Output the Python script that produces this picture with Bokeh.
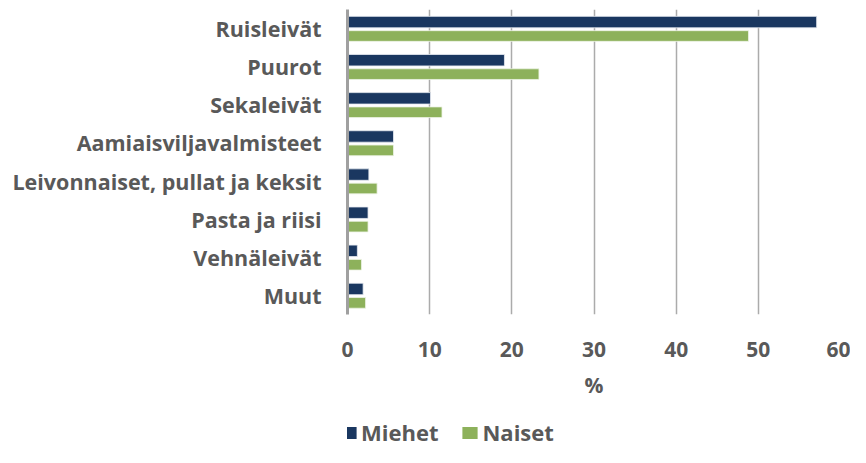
from bokeh.plotting import figure
from bokeh.layouts import column
from bokeh.models import FactorRange, Range1d, FixedTicker, Legend, LegendItem
from bokeh.transform import dodge
from bokeh.models import ColumnDataSource
from bokeh.embed import file_html
from bokeh.resources import INLINE

categories = ["Ruisleivät", "Puurot", "Sekaleivät", "Aamiaisviljavalmisteet",
              "Leivonnaiset, pullat ja keksit", "Pasta ja riisi", "Vehnäleivät", "Muut"]
miehet = [57.1, 19.1, 10.1, 5.6, 2.6, 2.5, 1.2, 1.9]
naiset = [48.8, 23.3, 11.5, 5.6, 3.6, 2.5, 1.7, 2.2]
x_ticks = [0, 10, 20, 30, 40, 50, 60]
series_names = ["Miehet", "Naiset"]

FONT = "Open Sans"
TEXT = "#595959"
NAVY = "#1A3760"
GREEN = "#8DB15B"

src = ColumnDataSource(dict(cat=categories, m=miehet, n=naiset))

p = figure(width=850, height=417, output_backend="svg", toolbar_location=None,
           y_range=FactorRange(*list(reversed(categories)), range_padding=0),
           x_range=Range1d(0, 60),
           min_border_left=347, min_border_right=10, min_border_top=9,
           min_border_bottom=103)
p.outline_line_color = None
p.background_fill_color = "white"

r_m = p.hbar(y=dodge("cat", 0.17, range=p.y_range), right="m", left=0, height=0.30,
             source=src, fill_color=NAVY, line_color="#E8ECF2", line_width=0.8)
r_n = p.hbar(y=dodge("cat", -0.195, range=p.y_range), right="n", left=0, height=0.28,
             source=src, fill_color=GREEN, line_color="#EEF4E6", line_width=0.8)

p.ygrid.grid_line_color = None
p.xgrid.grid_line_color = "#ABABAB"
p.xgrid.grid_line_width = 1.5
p.xaxis.ticker = FixedTicker(ticks=x_ticks)

p.yaxis.axis_line_color = "#A0A0A0"
p.yaxis.axis_line_width = 3
p.yaxis.major_tick_line_color = None
p.yaxis.minor_tick_line_color = None
p.yaxis.major_label_standoff = 20
p.yaxis.major_label_text_font = FONT
p.yaxis.major_label_text_font_style = "bold"
p.yaxis.major_label_text_font_size = "21.5px"
p.yaxis.major_label_text_color = TEXT

p.xaxis.axis_line_color = None
p.xaxis.major_tick_line_color = None
p.xaxis.minor_tick_line_color = None
p.xaxis.major_label_standoff = 21
p.xaxis.major_label_text_font = FONT
p.xaxis.major_label_text_font_style = "bold"
p.xaxis.major_label_text_font_size = "21px"
p.xaxis.major_label_text_color = TEXT
p.xaxis.axis_label = "%"
p.xaxis.axis_label_standoff = 11
p.xaxis.axis_label_text_font = FONT
p.xaxis.axis_label_text_font_style = "bold"
p.xaxis.axis_label_text_font_size = "21px"
p.xaxis.axis_label_text_color = TEXT

# legend strip: the series' own values, drawn outside this strip's visible range,
# only serve to give the legend its colour swatches
lg = figure(width=850, height=30, output_backend="svg", toolbar_location=None,
            x_range=Range1d(0, 1), y_range=Range1d(0, 1), min_border=0)
lg.axis.visible = False
lg.grid.visible = False
lg.outline_line_color = None
d_m = lg.quad(left="m", right="m", top="m", bottom="m", source=src,
              fill_color=NAVY, line_color=None)
d_n = lg.quad(left="n", right="n", top="n", bottom="n", source=src,
              fill_color=GREEN, line_color=None)

legend = Legend(items=[LegendItem(label=series_names[0], renderers=[d_m]),
                       LegendItem(label=series_names[1], renderers=[d_n])],
                orientation="horizontal", location=(-8, 0),
                padding=0, margin=0, spacing=22, label_standoff=3,
                glyph_width=19, glyph_height=15,
                border_line_color=None, background_fill_alpha=0,
                label_text_font=FONT, label_text_font_style="bold",
                label_text_font_size="22px", label_text_color=TEXT)
lg.add_layout(legend, "center")

layout = column(p, lg, spacing=0)
open("out.html", "w").write(file_html(layout, INLINE))
